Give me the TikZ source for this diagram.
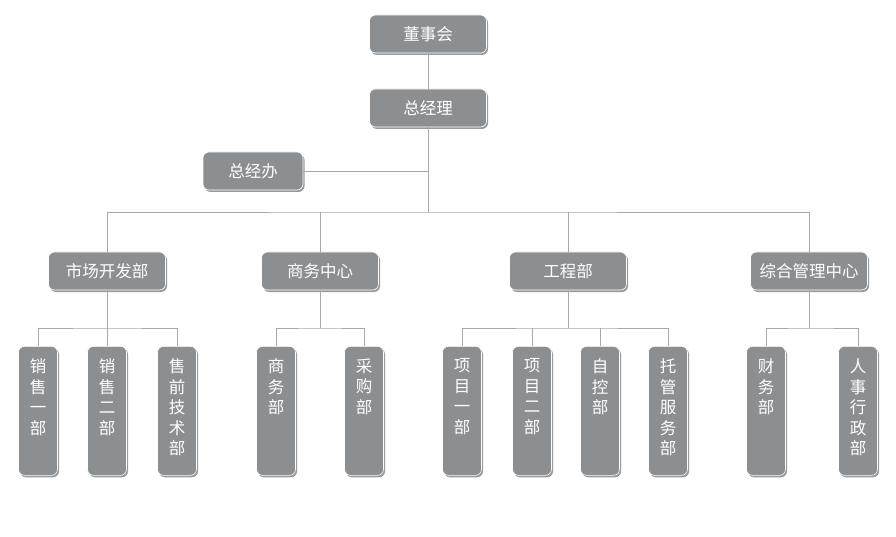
\documentclass[tikz,border=0pt]{standalone}
\usepackage{fontspec}
\setmainfont{Noto Sans CJK SC}
\usetikzlibrary{shadows}

\definecolor{boxgray}{HTML}{8C8F92}
\definecolor{linegray}{HTML}{A8A8A8}
\definecolor{shadegray}{HTML}{9A9A9A}

\begin{document}
\begin{tikzpicture}[x=1pt, y=-1pt,
    box/.style={rectangle, rounded corners=6pt, fill=boxgray, draw=white, line width=0.6pt,
        text=white, font=\fontsize{16.5}{20.5}\selectfont, inner sep=0pt,
        drop shadow={shadow xshift=1.5pt, shadow yshift=-2pt, fill=shadegray, opacity=1}},
    wide/.style={box, minimum width=117pt, minimum height=38pt},
    tall/.style={box, anchor=north, minimum width=39pt, minimum height=129pt},
    link/.style={draw=linegray, line width=0.8pt}]
    \useasboundingbox (0,0) rectangle (896,537);

    % Top
    \node[wide] (dsh) at (428,34) {董事会};
    \node[wide] (zjl) at (428,108) {总经理};
    \node[wide, minimum width=100pt] (zjb) at (253,171) {总经办};

    % Departments
    \node[wide] (scb) at (107,271) {市场开发部};
    \node[wide] (swzx) at (320,271) {商务中心};
    \node[wide] (gcb) at (568,271) {工程部};
    \node[wide] (zhgl) at (809,271) {综合管理中心};

    % Sections
    \newcommand{\vtext}[1]{\parbox[t][116pt][t]{18pt}{\centering\vspace{6pt}#1}}
    \node[tall] (xs1) at (38,346) {\vtext{销\\售\\一\\部}};
    \node[tall] (xs2) at (107,346) {\vtext{销\\售\\二\\部}};
    \node[tall] (sqjs) at (177,346) {\vtext{售\\前\\技\\术\\部}};
    \node[tall] (swb) at (276,346) {\vtext{商\\务\\部}};
    \node[tall] (cgb) at (364,346) {\vtext{采\\购\\部}};
    \node[tall] (xm1) at (462,346) {\vtext{项\\目\\一\\部}};
    \node[tall] (xm2) at (532,346) {\vtext{项\\目\\二\\部}};
    \node[tall] (zkb) at (600,346) {\vtext{自\\控\\部}};
    \node[tall] (tgfw) at (668,346) {\vtext{托\\管\\服\\务\\部}};
    \node[tall] (cwb) at (766,346) {\vtext{财\\务\\部}};
    \node[tall] (rsxz) at (858,346) {\vtext{人\\事\\行\\政\\部}};

    % Bus lines
    \coordinate (bus) at (428,212);
    \coordinate (bus1) at (107,328);
    \coordinate (bus2) at (320,328);
    \coordinate (bus3) at (568,328);
    \coordinate (bus4) at (809,328);

    \path[link] (dsh.south) -- (zjl.north);
    \path[link] (zjl.south) -- (bus);
    \path[link] (zjb.east) -- (zjb.east -| zjl.south);
    \path[link] (scb.north) |- (bus) -| (zhgl.north);
    \path[link] (swzx.north) -- (swzx.north |- bus);
    \path[link] (gcb.north) -- (gcb.north |- bus);

    \path[link] (scb.south) -- (bus1);
    \path[link] (xs1.north) |- (bus1) -| (sqjs.north);
    \path[link] (xs2.north) -- (xs2.north |- bus1);

    \path[link] (swzx.south) -- (bus2);
    \path[link] (swb.north) |- (bus2) -| (cgb.north);

    \path[link] (gcb.south) -- (bus3);
    \path[link] (xm1.north) |- (bus3) -| (tgfw.north);
    \path[link] (xm2.north) -- (xm2.north |- bus3);
    \path[link] (zkb.north) -- (zkb.north |- bus3);

    \path[link] (zhgl.south) -- (bus4);
    \path[link] (cwb.north) |- (bus4) -| (rsxz.north);
\end{tikzpicture}
\end{document}
